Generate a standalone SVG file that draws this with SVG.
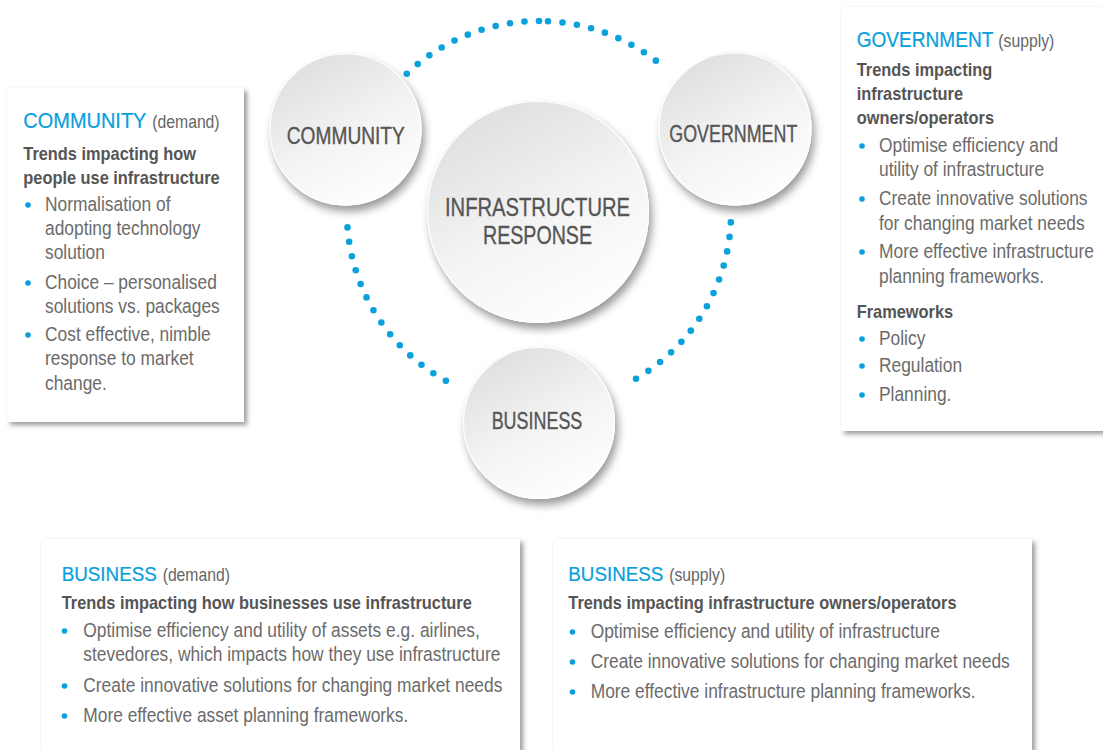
<svg xmlns="http://www.w3.org/2000/svg" width="1103" height="750" viewBox="0 0 1103 750">
<style>
  text { font-family: "Liberation Sans", Arial, sans-serif; }
  .node-label { font-size: 23px; fill: #555; stroke: #555; stroke-width: 0.35px; text-anchor: middle; }
  .big-label { font-size: 26.5px; fill: #555; stroke: #555; stroke-width: 0.35px; text-anchor: middle; }
  .head { font-size: 21.7px; fill: #0a9fdc; stroke: #0a9fdc; stroke-width: 0.25px; }
  .paren { font-size: 17.5px; fill: #666; stroke: none; }
  .sub { font-size: 18.2px; font-weight: bold; fill: #555; }
  .body { font-size: 19.3px; fill: #6b6b6b; }
  .bullet { fill: #0a9fdc; }
  .box { fill: #ffffff; filter: url(#boxShadow); }
  .disc { fill: url(#discGrad); filter: url(#discShadow); }
  .rim { fill: none; stroke: #ffffff; stroke-width: 1.2; }
  .dots { fill: none; stroke: #0ba2dc; stroke-width: 6.6; stroke-linecap: round; stroke-dasharray: 0 1; }
</style>
<defs>
  <linearGradient id="discGrad" x1="0.2" y1="0" x2="0.75" y2="1">
    <stop offset="0" stop-color="#dddddd"/>
    <stop offset="0.55" stop-color="#f4f4f4"/>
    <stop offset="1" stop-color="#ffffff"/>
  </linearGradient>
  <filter id="discShadow" x="-20%" y="-20%" width="150%" height="150%">
    <feDropShadow dx="3" dy="6" stdDeviation="4" flood-color="#000" flood-opacity="0.4"/>
  </filter>
  <filter id="boxShadow" x="-10%" y="-10%" width="120%" height="120%">
    <feDropShadow dx="3" dy="3" stdDeviation="2.5" flood-color="#000" flood-opacity="0.4"/>
  </filter>
</defs>
<rect width="1103" height="750" fill="#ffffff"/>

<g id="connectors">
  <path class="dots" pathLength="10" d="M406.8,73.7 A192,192 0 0 1 539,21"/>
  <path class="dots" pathLength="9" d="M548,21.2 A192,192 0 0 1 667,69.9"/>
  <path class="dots" pathLength="14" d="M347.5,227.4 A192,192 0 0 0 458.8,387.4"/>
  <path class="dots" pathLength="14" d="M730.8,222.4 A192,192 0 0 1 623.2,385.6"/>
</g>

<g id="node-community">
  <circle class="disc" cx="345.5" cy="129.5" r="76"/>
  <circle class="rim" cx="345.5" cy="129.5" r="75.5"/>
  <text class="node-label" x="345.8" y="144" textLength="118" lengthAdjust="spacingAndGlyphs">COMMUNITY</text>
</g>
<g id="node-government">
  <circle class="disc" cx="735" cy="129" r="76.5"/>
  <circle class="rim" cx="735" cy="129" r="76"/>
  <text class="node-label" x="733.3" y="141.7" textLength="128" lengthAdjust="spacingAndGlyphs">GOVERNMENT</text>
</g>
<g id="node-infrastructure">
  <circle class="disc" cx="538" cy="212" r="111"/>
  <circle class="rim" cx="538" cy="212" r="110.5"/>
  <text class="big-label" x="537.5" y="216" textLength="185" lengthAdjust="spacingAndGlyphs">INFRASTRUCTURE</text>
  <text class="big-label" x="537.5" y="244" textLength="109" lengthAdjust="spacingAndGlyphs">RESPONSE</text>
</g>
<g id="node-business">
  <circle class="disc" cx="539" cy="423" r="76"/>
  <circle class="rim" cx="539" cy="423" r="75.5"/>
  <text class="node-label" x="537" y="429" textLength="90.7" lengthAdjust="spacingAndGlyphs">BUSINESS</text>
</g>

<g id="box-community">
  <rect class="box" x="7" y="88" width="237" height="334"/>
  <g transform="matrix(0.9 0 0 1 2.33 0)">
    <text x="23.3" y="128.3"><tspan class="head" style="font-size:22.2px">COMMUNITY</tspan><tspan class="paren" dx="6.5">(demand)</tspan></text>
    <text class="sub" x="23.3" y="160">Trends impacting how</text>
    <text class="sub" x="23.3" y="184">people use infrastructure</text>
  </g>
  <circle class="bullet" cx="28" cy="205" r="2.8"/>
  <circle class="bullet" cx="28" cy="283" r="2.8"/>
  <circle class="bullet" cx="28" cy="335" r="2.8"/>
  <g transform="matrix(0.9 0 0 1 4.5 0)">
    <text class="body" x="45" y="211">Normalisation of</text>
    <text class="body" x="45" y="235">adopting technology</text>
    <text class="body" x="45" y="259">solution</text>
    <text class="body" x="45" y="289">Choice – personalised</text>
    <text class="body" x="45" y="313">solutions vs. packages</text>
    <text class="body" x="45" y="341">Cost effective, nimble</text>
    <text class="body" x="45" y="365">response to market</text>
    <text class="body" x="45" y="390">change.</text>
  </g>
</g>

<g id="box-government">
  <rect class="box" x="841" y="7" width="275" height="424"/>
  <g transform="matrix(0.9 0 0 1 85.67 0)">
    <text x="856.7" y="46.7"><tspan class="head" style="font-size:21.2px">GOVERNMENT</tspan><tspan class="paren" dx="5.5">(supply)</tspan></text>
    <text class="sub" x="856.7" y="76">Trends impacting</text>
    <text class="sub" x="856.7" y="100">infrastructure</text>
    <text class="sub" x="856.7" y="124">owners/operators</text>
    <text class="sub" x="856.7" y="318">Frameworks</text>
  </g>
  <circle class="bullet" cx="862" cy="146" r="2.8"/>
  <circle class="bullet" cx="862" cy="199" r="2.8"/>
  <circle class="bullet" cx="862" cy="252" r="2.8"/>
  <circle class="bullet" cx="862" cy="339" r="2.8"/>
  <circle class="bullet" cx="862" cy="366" r="2.8"/>
  <circle class="bullet" cx="862" cy="395" r="2.8"/>
  <g transform="matrix(0.9 0 0 1 87.9 0)">
    <text class="body" x="879" y="152">Optimise efficiency and</text>
    <text class="body" x="879" y="176">utility of infrastructure</text>
    <text class="body" x="879" y="205">Create innovative solutions</text>
    <text class="body" x="879" y="230">for changing market needs</text>
    <text class="body" x="879" y="258">More effective infrastructure</text>
    <text class="body" x="879" y="283">planning frameworks.</text>
    <text class="body" x="879" y="345">Policy</text>
    <text class="body" x="879" y="372">Regulation</text>
    <text class="body" x="879" y="401">Planning.</text>
  </g>
</g>

<g id="box-business-demand">
  <rect class="box" x="41" y="539" width="479" height="230"/>
  <g transform="matrix(0.9 0 0 1 6.17 0)">
    <text x="61.7" y="581"><tspan class="head" style="font-size:20.9px">BUSINESS</tspan><tspan class="paren" dx="6.5">(demand)</tspan></text>
    <text class="sub" x="61.7" y="609">Trends impacting how businesses use infrastructure</text>
  </g>
  <circle class="bullet" cx="64.5" cy="631" r="2.8"/>
  <circle class="bullet" cx="64.5" cy="686" r="2.8"/>
  <circle class="bullet" cx="64.5" cy="716" r="2.8"/>
  <g transform="matrix(0.9 0 0 1 8.33 0)">
    <text class="body" x="83.3" y="637">Optimise efficiency and utility of assets e.g. airlines,</text>
    <text class="body" x="83.3" y="661">stevedores, which impacts how they use infrastructure</text>
    <text class="body" x="83.3" y="692">Create innovative solutions for changing market needs</text>
    <text class="body" x="83.3" y="722">More effective asset planning frameworks.</text>
  </g>
</g>

<g id="box-business-supply">
  <rect class="box" x="553" y="539" width="479" height="230"/>
  <g transform="matrix(0.9 0 0 1 56.83 0)">
    <text x="568.3" y="581"><tspan class="head" style="font-size:20.9px">BUSINESS</tspan><tspan class="paren" dx="6.5">(supply)</tspan></text>
    <text class="sub" x="568.3" y="609">Trends impacting infrastructure owners/operators</text>
  </g>
  <circle class="bullet" cx="572.5" cy="632" r="2.8"/>
  <circle class="bullet" cx="572.5" cy="662" r="2.8"/>
  <circle class="bullet" cx="572.5" cy="692" r="2.8"/>
  <g transform="matrix(0.9 0 0 1 59.07 0)">
    <text class="body" x="590.7" y="638">Optimise efficiency and utility of infrastructure</text>
    <text class="body" x="590.7" y="668">Create innovative solutions for changing market needs</text>
    <text class="body" x="590.7" y="698">More effective infrastructure planning frameworks.</text>
  </g>
</g>
</svg>
